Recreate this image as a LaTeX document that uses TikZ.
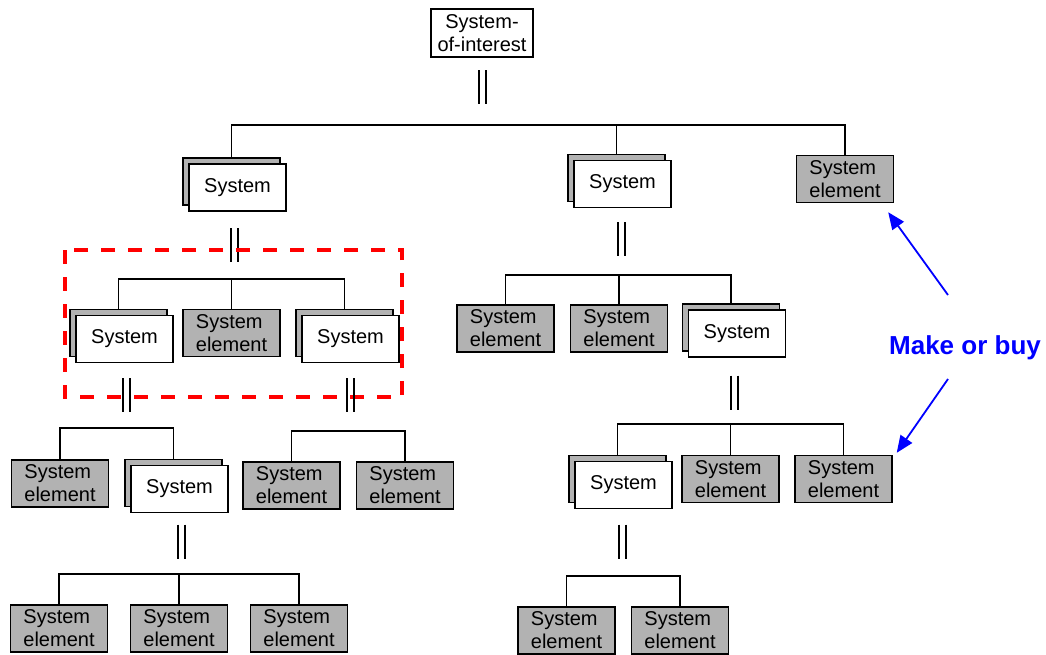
\documentclass[tikz,border=0pt]{standalone}
\usepackage{fontspec}
\setmainfont{Liberation Sans}
\usetikzlibrary{arrows.meta}
\definecolor{elgray}{RGB}{178,178,178}
\definecolor{mobblue}{RGB}{0,0,255}
\tikzset{
  boxbase/.style={draw=black, line width=1.4pt, inner sep=0pt, minimum width=97pt, minimum height=47pt, font=\fontsize{20}{23}\selectfont},
  elbox/.style={boxbase, fill=elgray, align=left},
  sysbox/.style={boxbase, fill=white, align=center},
  backbox/.style={boxbase, fill=elgray},
  conn/.style={line width=1.3pt},
  dbar/.pic={\draw[line width=1.6pt] (-3.5,-17) -- (-3.5,17) (3.5,-17) -- (3.5,17);},
  mobarrow/.style={draw=mobblue, line width=1.8pt, -{Triangle[length=17pt,width=14pt]}}
}
% stacked "System" box: grey back sheet plus white front sheet
\newcommand{\sysstack}[2]{%
  \node[backbox] (#1-b) at #2 {};
  \node[sysbox] (#1) at ([xshift=6pt,yshift=-6pt]#1-b.center) {System};
}
\begin{document}
\begin{tikzpicture}[x=1pt, y=-1pt]
    \useasboundingbox (0,0) rectangle (1046,654);

    % top
    \node[sysbox, minimum width=102pt, minimum height=48pt] (soi) at (482,33) {System-\\of-interest};
    \pic at (482.5,87) {dbar};

    % level 1
    \sysstack{sysA}{(231.5,181.5)}
    \sysstack{sysB}{(616.5,178)}
    \node[elbox] (seC) at (845,179) {System\\element};
    \coordinate (bus0) at (482,125);
    \draw[conn] (sysA-b.north) |- (bus0) -| (seC.north);
    \draw[conn] (sysB-b.north) -- (sysB-b.north |- bus0);
    \pic at (234.5,245) {dbar};
    \pic at (621.5,239) {dbar};

    % level 2, left branch
    \sysstack{sysD}{(118.5,333)}
    \node[elbox] (seE) at (231.5,333) {System\\element};
    \sysstack{sysF}{(344.5,333)}
    \coordinate (bus1) at (231.5,279);
    \draw[conn] (sysD-b.north) |- (bus1) -| (sysF-b.north);
    \draw[conn] (seE.north) -- (seE.north |- bus1);
    \draw[red, line width=3.5pt, dash pattern=on 14pt off 13pt] (65,250) rectangle (402,397);
    \pic at (126.5,395) {dbar};
    \pic at (350.5,395) {dbar};

    % level 2, middle branch
    \node[elbox] (seN) at (505.5,328.5) {System\\element};
    \node[elbox] (seO) at (619,328.5) {System\\element};
    \sysstack{sysP}{(731,327.5)}
    \coordinate (bus2) at (619,275);
    \draw[conn] (seN.north) |- (bus2) -| (sysP-b.north);
    \draw[conn] (seO.north) -- (seO.north |- bus2);
    \pic at (734.5,392.5) {dbar};

    % level 3
    \node[elbox] (seG) at (60,483.5) {System\\element};
    \sysstack{sysH}{(173.5,483)}
    \coordinate (bus3) at (120,428);
    \draw[conn] (seG.north) |- (bus3) -| (sysH-b.north);
    \node[elbox] (seI) at (291.5,485.5) {System\\element};
    \node[elbox] (seJ) at (405,485.5) {System\\element};
    \coordinate (bus4) at (350,431);
    \draw[conn] (seI.north) |- (bus4) -| (seJ.north);
    \sysstack{sysQ}{(617.5,479)}
    \node[elbox] (seR) at (730.5,479) {System\\element};
    \node[elbox] (seS) at (843.5,479) {System\\element};
    \coordinate (bus5) at (730.5,424);
    \draw[conn] (sysQ-b.north) |- (bus5) -| (seS.north);
    \draw[conn] (seR.north) -- (seR.north |- bus5);
    \pic at (181.5,541.5) {dbar};
    \pic at (622.5,541.5) {dbar};

    % level 4
    \node[elbox] (seK) at (59,628.5) {System\\element};
    \node[elbox] (seL) at (179,628.5) {System\\element};
    \node[elbox] (seM) at (299,628.5) {System\\element};
    \coordinate (bus6) at (179,574);
    \draw[conn] (seK.north) |- (bus6) -| (seM.north);
    \draw[conn] (seL.north) -- (seL.north |- bus6);
    \node[elbox] (seT) at (566.5,630.5) {System\\element};
    \node[elbox] (seU) at (680,630.5) {System\\element};
    \coordinate (bus7) at (623,576);
    \draw[conn] (seT.north) |- (bus7) -| (seU.north);

    % make or buy
    \node[font=\fontsize{26}{30}\selectfont\bfseries, text=mobblue] (mob) at (965,348) {Make or buy};
    \coordinate (mobup) at (948,295);
    \coordinate (mobdown) at (948,379);
    \draw[mobarrow] (mobup) -- ([xshift=-6pt,yshift=-9pt]seC.south east);
    \draw[mobarrow] (mobdown) -- ([xshift=4pt,yshift=2pt]seS.north east);
\end{tikzpicture}
\end{document}
